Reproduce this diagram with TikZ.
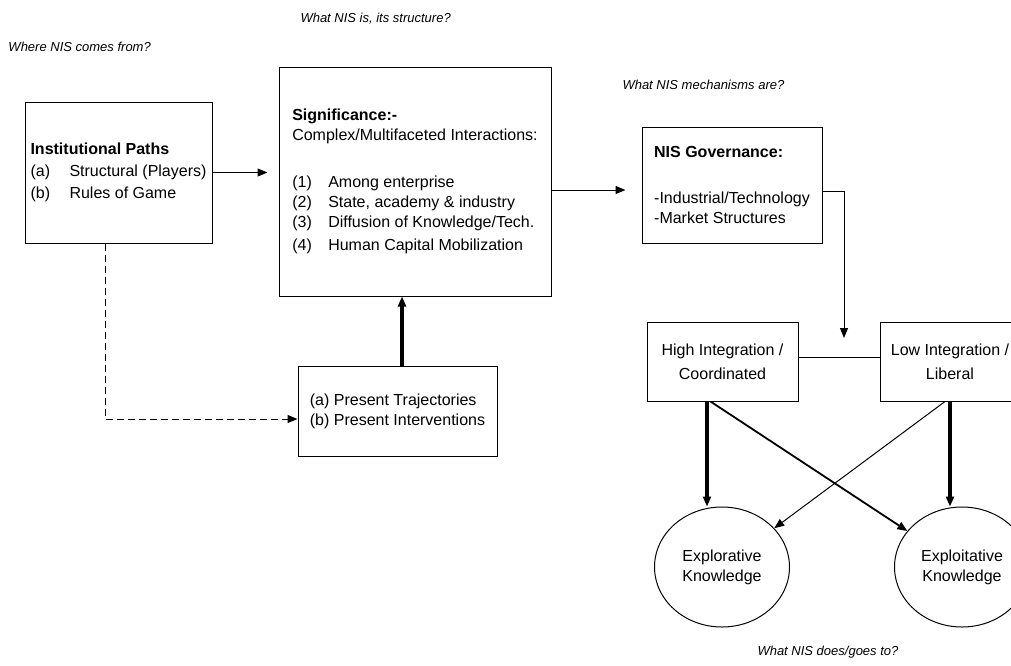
\documentclass[tikz,border=0pt]{standalone}
\usepackage{fontspec}
\setmainfont{Liberation Sans}
\usetikzlibrary{arrows.meta,shapes.geometric}

\begin{document}
\begin{tikzpicture}
  [x=1pt,y=-1pt,line width=1pt,>={Triangle[length=10pt,width=8pt]},
   every node/.style={font=\fontsize{16}{20}\selectfont,inner sep=0pt},
   box/.style={draw,align=left},
   ask/.style={font=\fontsize{13}{15}\selectfont\itshape,anchor=west},
   knw/.style={draw,ellipse,minimum width=135pt,minimum height=120pt,align=center},
   big/.style={->,line width=3.2pt}]
  \useasboundingbox (0,0) rectangle (1011,665);

  \node[ask] (q1) at (8,47)    {Where NIS comes from?};
  \node[ask] (q2) at (300,19)  {What NIS is, its structure?};
  \node[ask] (q3) at (622,85)  {What NIS mechanisms are?};
  \node[ask] (q4) at (757,652) {What NIS does/goes to?};

  \node[box,minimum width=187pt,minimum height=141pt] (inst) at (118.5,172.5)
    {\textbf{Institutional Paths}\\[2pt] \makebox[39pt][l]{(a)}Structural (Players)\\[2pt] \makebox[39pt][l]{(b)}Rules of Game};
  \node[box,minimum width=272pt,minimum height=229pt] (sig) at (415,181.5)
    {\textbf{Significance:-}\\ Complex/Multifaceted Interactions:\\[27pt]
     \makebox[36pt][l]{(1)}Among enterprise\\ \makebox[36pt][l]{(2)}State, academy \& industry\\
     \makebox[36pt][l]{(3)}Diffusion of Knowledge/Tech.\\[3pt] \makebox[36pt][l]{(4)}Human Capital Mobilization};
  \node[box,minimum width=199pt,minimum height=90pt] (pres) at (397.5,411)
    {(a) Present Trajectories\\ (b) Present Interventions};
  \node[box,minimum width=180pt,minimum height=116pt] (gov) at (732,185)
    {\textbf{NIS Governance:}\\[26pt] -Industrial/Technology\\ -Market Structures};
  \node[box,align=center,minimum width=151pt,minimum height=79pt] (hi) at (722.5,361.5)
    {High Integration /\\[4pt] Coordinated};
  \node[box,align=center,minimum width=140pt,minimum height=79pt] (lo) at (950,361.5)
    {Low Integration /\\[4pt] Liberal};
  \node[knw] (xpr) at (722,567) {Explorative\\ Knowledge};
  \node[knw] (xpt) at (962,567) {Exploitative\\ Knowledge};

  \coordinate (jn) at (844,338);
  \coordinate (ds) at ([xshift=-13.5pt]inst.south);
  \coordinate (pt) at ([xshift=4.5pt]pres.north);
  \coordinate (h1) at ([xshift=-15.5pt]hi.south);
  \coordinate (h2) at ([xshift=-12pt]hi.south);
  \coordinate (l2) at ([xshift=-5pt]lo.south);

  \draw[->,shorten >=11pt] (inst.east) -- (inst.east -| sig.west);
  \draw[->,shorten >=16pt] ([yshift=-8.5pt]sig.east) -- ([yshift=-5pt]gov.west);
  \draw[->] ([yshift=-6pt]gov.east) -| (jn);
  \draw ([yshift=4.5pt]hi.east) -- ([yshift=4.5pt]lo.west);
  \draw[->,dash pattern=on 7pt off 4pt] (ds) |- ([yshift=-8pt]pres.west);
  \draw[big] (pt) -- (pt |- sig.south);
  \draw[big] (h1) -- (h1 |- xpr.north);
  \draw[big] (lo.south) -- (lo.south |- xpt.north);

  \foreach \from/\to/\w in {h2/xpt/1.8pt,l2/xpr/1pt}
    \draw[->,line width=\w] (\from) -- (\to);

\end{tikzpicture}
\end{document}
